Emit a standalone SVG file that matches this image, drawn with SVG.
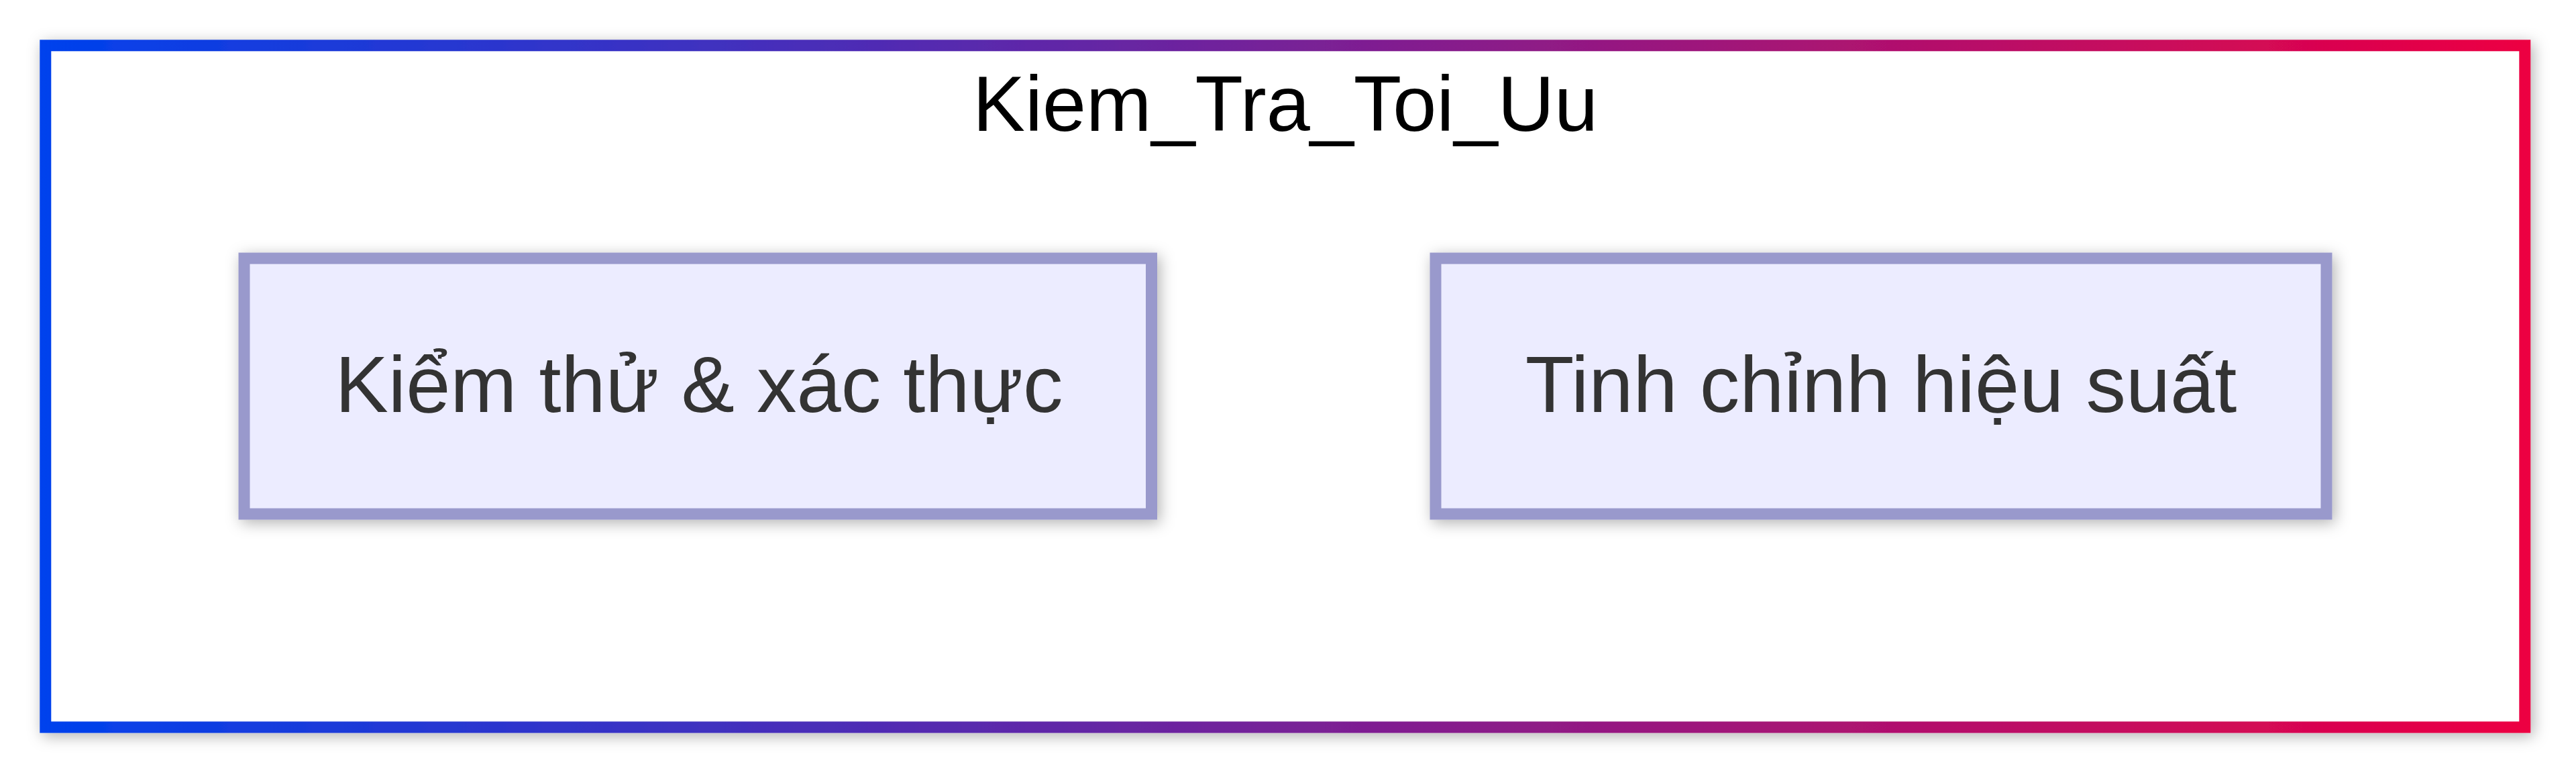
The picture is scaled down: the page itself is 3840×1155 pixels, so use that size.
<svg xmlns="http://www.w3.org/2000/svg" width="3840" height="1155" viewBox="0 0 3840 1155">
  <defs>
    <linearGradient id="borderGrad" gradientUnits="userSpaceOnUse" x1="59" y1="0" x2="3773" y2="0">
      <stop offset="0" stop-color="#0042ED"/>
      <stop offset="1" stop-color="#ED0042"/>
    </linearGradient>
    <filter id="shadow" x="-10%" y="-20%" width="120%" height="140%">
      <feDropShadow dx="4" dy="5" stdDeviation="11" flood-color="#000000" flood-opacity="0.3"/>
    </filter>
  </defs>
  <style>
    .cluster { fill: #ffffff; stroke: url(#borderGrad); stroke-width: 17; filter: url(#shadow); }
    .cluster-label { font-family: "Liberation Sans", Arial, sans-serif; font-size: 117px; fill: #000000; text-anchor: middle; }
    .node rect { fill: #ECECFF; stroke: #9999CC; stroke-width: 17; filter: url(#shadow); }
    .node text { font-family: "Liberation Sans", Arial, sans-serif; font-size: 119px; fill: #333333; text-anchor: middle; }
  </style>
  <rect width="3840" height="1155" fill="#ffffff"/>
  <g id="Kiem_Tra_Toi_Uu">
    <rect class="cluster" x="67.8" y="67.8" width="3696" height="1016"/>
    <text class="cluster-label" x="1916" y="195">Kiem_Tra_Toi_Uu</text>
  </g>
  <g id="connectors"></g>
  <g id="kiem_thu" class="node">
    <rect x="364" y="385" width="1352.5" height="381"/>
    <text x="1042" y="614">Kiểm thử &amp; xác thực</text>
  </g>
  <g id="tinh_chinh" class="node">
    <rect x="2140" y="385" width="1328" height="381"/>
    <text x="2804" y="614">Tinh chỉnh hiệu suất</text>
  </g>
</svg>
